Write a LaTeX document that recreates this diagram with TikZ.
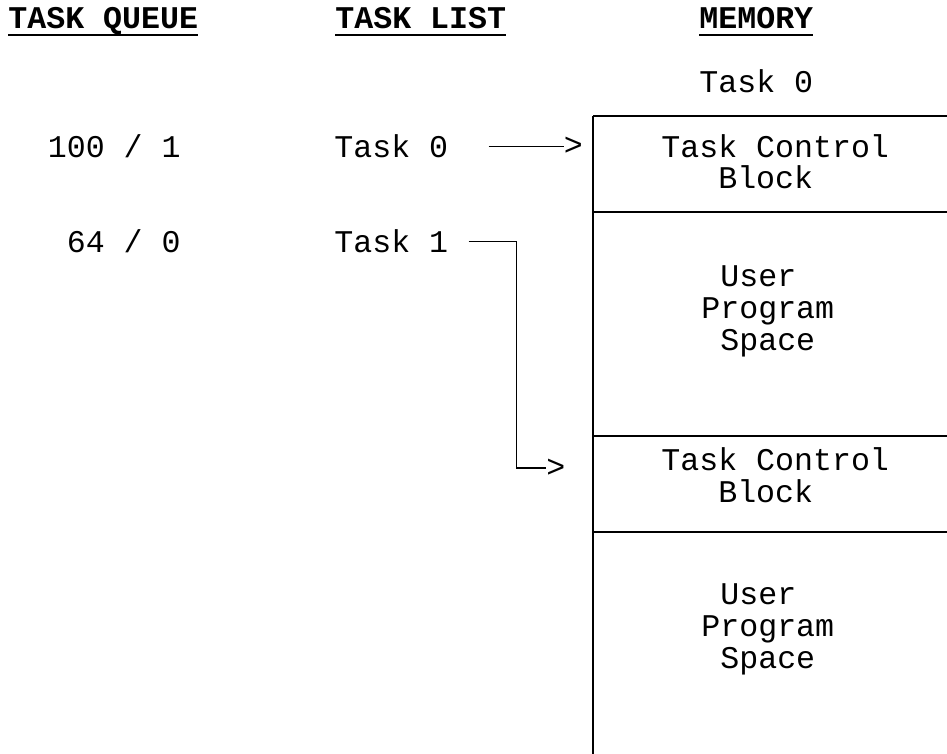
\documentclass[tikz,border=0pt]{standalone}
\usepackage{fontspec}
\setmainfont{Liberation Mono}
\usepackage{tikz}
\usetikzlibrary{positioning}
\newcommand{\ulhead}[1]{\setbox0\hbox{#1}\rlap{\rule[-3.5pt]{\wd0}{1pt}}\box0}

\begin{document}
\begin{tikzpicture}[x=0.5pt, y=-0.5pt,
		font=\fontsize{15.8}{15.8}\selectfont,
		txt/.style={inner sep=0pt, anchor=base west},
		num/.style={inner sep=0pt, anchor=base east},
		head/.style={txt, font=\fontsize{15.8}{15.8}\selectfont\bfseries},
		wire/.style={line width=0.6pt}]
			\useasboundingbox (0,0) rectangle (947,754);

			\node[head] (hq) at (8,29) {\ulhead{TASK QUEUE}};
			\node[head] (hl) at (335,29) {\ulhead{TASK LIST}};
			\node[head] (hm) at (699,29) {\ulhead{MEMORY}};
			\node[txt] (m0) at (699,93) {Task 0};

			\node[num] (q0) at (181,158) {100 / 1};
			\node[num] (q1) at (181,253) {64 / 0};
			\node[txt] (t0) at (334,158) {Task 0};
			\node[txt] (t1) at (334,253) {Task 1};
			\node[inner sep=0pt, right = 57.5pt of t0] (g0) {>};
			\node[inner sep=0pt, anchor=west] (g1) at (546,468) {>};

			% memory column
			\draw[wire] (593,116) -- (593,754);
			\foreach \y in {116, 212, 436, 532}
				\draw[wire] (593,\y) -- (947,\y);

			\node[txt, align=left] (c0) at (661,189) {Task Control\\\hphantom{Tas}Block};
			\node[txt, align=left] (u0) at (701,350) {\hphantom{P}User\\Program\\\hphantom{P}Space};
			\node[txt, align=left] (c1) at (661,502) {Task Control\\\hphantom{Tas}Block};
			\node[txt, align=left] (u1) at (701,668) {\hphantom{P}User\\Program\\\hphantom{P}Space};

			\draw[wire] ([xshift=20pt]t0.east) -- (g0.west);
			\draw[wire] ([xshift=10pt]t1.east) -- ++(48,0) |- (g1.west);
		\end{tikzpicture}
\end{document}
